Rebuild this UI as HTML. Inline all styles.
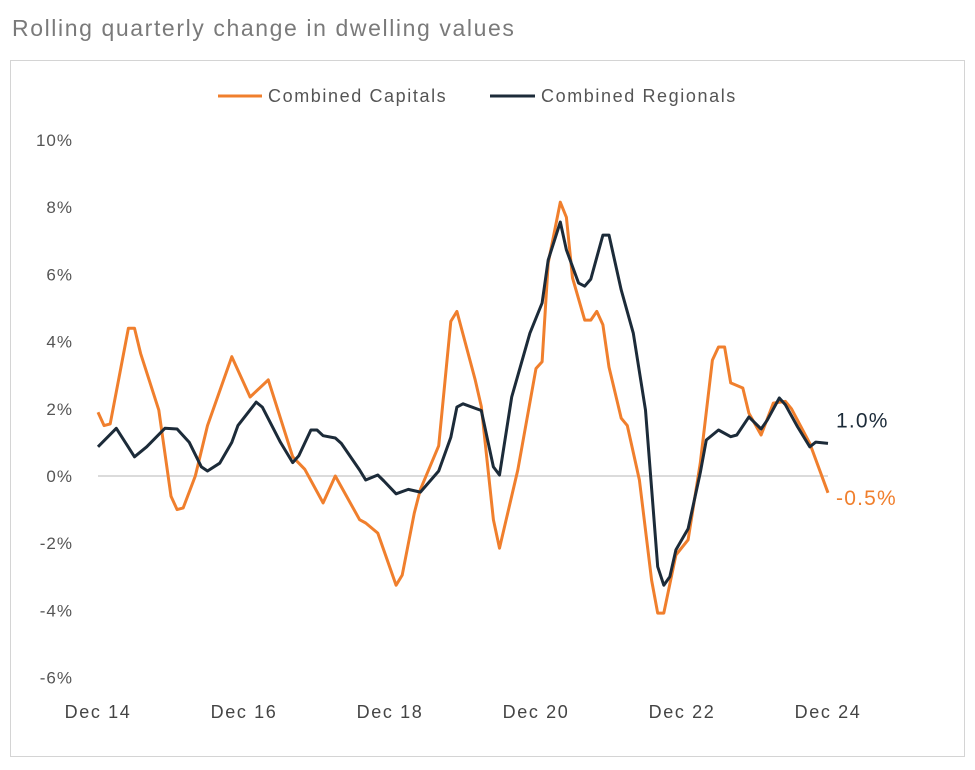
<!DOCTYPE html>
<html><head><meta charset="utf-8"><style>
html,body{margin:0;padding:0;background:#fff;}
body{width:975px;height:765px;overflow:hidden;font-family:"Liberation Sans",sans-serif;}
</style></head><body>
<svg id="chart" width="975" height="765" xmlns="http://www.w3.org/2000/svg">
<text x="12" y="36" font-size="23" letter-spacing="1.6" fill="#7a7a7a" font-family="Liberation Sans, sans-serif">Rolling quarterly change in dwelling values</text>
<rect x="10.5" y="60.5" width="954" height="696" fill="none" stroke="#d4d4d4"/>
<g>
<g><line x1="218" y1="96" x2="262" y2="96" stroke="#F07F2D" stroke-width="3"/><text x="268" y="102" font-size="18" letter-spacing="1.6" fill="#555">Combined Capitals</text></g>
<g><line x1="490" y1="96" x2="535" y2="96" stroke="#1C2B39" stroke-width="3"/><text x="541" y="102" font-size="18" letter-spacing="1.6" fill="#555">Combined Regionals</text></g>
</g>
<g id="yaxis"></g>
<g id="xaxis"></g>
<g id="plot"></g>
</svg>
<script>
const yTicks=[10,8,6,4,2,0,-2,-4,-6];
const xLabels=["Dec 14","Dec 16","Dec 18","Dec 20","Dec 22","Dec 24"];
const xLabelMonths=[0,24,48,72,96,120];
const capMonths=[0,1,2,5,6,7,10,12,13,14,16,18,22,25,28,32,34,37,39,43,44,46,49,50,52,53,56,58,59,62,63,65,66,69,72,73,74,76,77,78,80,81,82,83,84,86,87,89,91,92,93,95,97,99,101,102,103,104,106,107,109,111,113,114,117,120];
const capValues=[1.9,1.5,1.55,4.4,4.4,3.65,1.96,-0.6,-1.0,-0.95,0,1.5,3.55,2.35,2.86,0.57,0.2,-0.8,0,-1.3,-1.4,-1.7,-3.25,-2.95,-1.1,-0.4,0.9,4.6,4.9,2.86,2.07,-1.3,-2.15,0.18,3.2,3.4,6.34,8.15,7.7,5.9,4.64,4.64,4.9,4.5,3.24,1.72,1.5,-0.12,-3.1,-4.08,-4.08,-2.35,-1.9,0.39,3.45,3.84,3.84,2.77,2.62,1.87,1.22,2.17,2.22,2.0,0.97,-0.5];
const regMonths=[0,3,6,7,8,11,13,15,17,18,20,22,23,26,27,30,32,33,35,36,37,39,40,43,44,46,47,49,51,53,56,58,59,60,63,65,66,68,71,73,74,76,77,79,80,81,83,84,86,88,90,92,93,94,95,97,99,100,102,104,105,107,109,110,112,113,115,117,118,120];
const regValues=[0.87,1.42,0.57,0.72,0.87,1.42,1.4,1.0,0.27,0.15,0.38,1.0,1.5,2.2,2.05,1.0,0.4,0.6,1.37,1.37,1.2,1.13,0.97,0.18,-0.12,0.03,-0.15,-0.53,-0.4,-0.48,0.15,1.15,2.05,2.15,1.95,0.27,0.03,2.35,4.25,5.15,6.43,7.56,6.73,5.74,5.65,5.86,7.17,7.17,5.54,4.25,1.96,-2.7,-3.25,-3.0,-2.2,-1.57,0.1,1.07,1.37,1.17,1.22,1.76,1.4,1.66,2.32,2.12,1.46,0.87,1.01,0.97];
const NS="http://www.w3.org/2000/svg";
const X=m=>98+m*(730/120);
const Y=v=>476-v*33.6;
const ya=document.getElementById('yaxis'),xa=document.getElementById('xaxis'),pl=document.getElementById('plot');
yTicks.forEach(t=>{
 const tx=document.createElementNS(NS,'text');
 
 
 tx.setAttribute('x',73);tx.setAttribute('y',Y(t)+6);tx.setAttribute('text-anchor','end');
 tx.setAttribute('font-size','17');tx.setAttribute('letter-spacing','1');tx.setAttribute('fill','#555');
 tx.textContent=(t<0?'-'+Math.abs(t):t)+'%';ya.appendChild(tx);
});
xLabels.forEach((l,i)=>{
 const tx=document.createElementNS(NS,'text');
 
 
 tx.setAttribute('x',X(xLabelMonths[i]));tx.setAttribute('y',718);tx.setAttribute('text-anchor','middle');
 tx.setAttribute('font-size','18');tx.setAttribute('letter-spacing','1.6');tx.setAttribute('fill','#444');
 tx.textContent=l;xa.appendChild(tx);
});
const zl=document.createElementNS(NS,'line');


zl.setAttribute('x1',X(0));zl.setAttribute('x2',X(120));zl.setAttribute('y1',Y(0));zl.setAttribute('y2',Y(0));
zl.setAttribute('stroke','#cfcfcf');zl.setAttribute('stroke-width','1.5');pl.appendChild(zl);
function series(ms,vs,col,name){
 const p=document.createElementNS(NS,'polyline');
 
 
 p.setAttribute('points',ms.map((m,i)=>X(m).toFixed(1)+','+Y(vs[i]).toFixed(1)).join(' '));
 p.setAttribute('fill','none');p.setAttribute('stroke',col);p.setAttribute('stroke-width','3');p.setAttribute('stroke-linejoin','round');
 pl.appendChild(p);
}
series(capMonths,capValues,'#F07F2D','capitals-line');
series(regMonths,regValues,'#1C2B39','regionals-line');
function endLabel(v,col,dy,name){
 const tx=document.createElementNS(NS,'text');
 
 
 tx.setAttribute('x',836);tx.setAttribute('y',Y(v)+dy);tx.setAttribute('font-size','21');tx.setAttribute('letter-spacing','1.2');tx.setAttribute('fill',col);
 tx.textContent=(v<0?'-'+Math.abs(v).toFixed(1):v.toFixed(1))+'%';pl.appendChild(tx);
}
endLabel(regValues[regValues.length-1],'#1C2B39',-16,'regionals-end-label');
endLabel(capValues[capValues.length-1],'#F07F2D',12,'capitals-end-label');
</script>
</body></html>
